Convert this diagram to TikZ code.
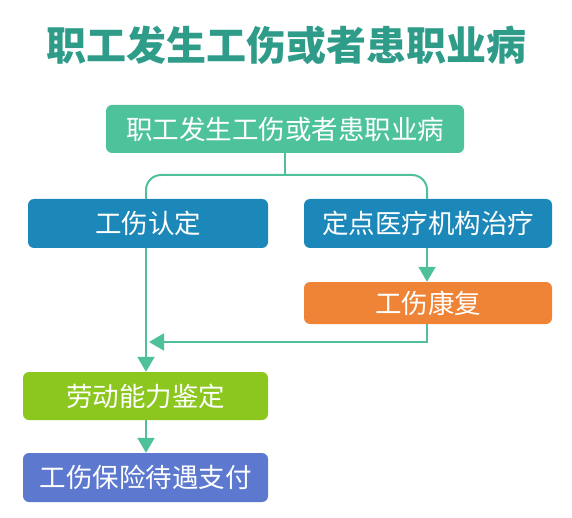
\documentclass[tikz,border=0pt]{standalone}
\usepackage{fontspec}
\newfontfamily\cjk{Noto Sans CJK SC}
\usetikzlibrary{arrows.meta}
\definecolor{titlec}{HTML}{2E9C89}
\definecolor{topc}{HTML}{4EC39B}
\definecolor{bluec}{HTML}{1C88B9}
\definecolor{orangec}{HTML}{EF8436}
\definecolor{greenc}{HTML}{8CC71F}
\definecolor{purplec}{HTML}{5C79CF}
\definecolor{linec}{HTML}{4EC19C}
\begin{document}
\begin{tikzpicture}[x=1pt,y=-1pt,
  box/.style={rounded corners=6pt, minimum height=49pt, text=white, inner sep=0pt,
    font=\cjk\fontsize{26.5}{30}\selectfont},
  conn/.style={draw=linec, line width=2pt},
  arr/.style={conn, -{Triangle[width=17pt,length=15pt]}}]
\useasboundingbox (0,0) rectangle (572,518);
\node[font=\cjk\bfseries\fontsize{40}{44}\selectfont, text=titlec] (title) at (286,45) {职工发生工伤或者患职业病};
\node[box, fill=topc, minimum width=358pt, minimum height=48pt] (top) at (285,129) {职工发生工伤或者患职业病};
\node[box, fill=bluec, minimum width=240pt] (bl) at (148,223.5) {工伤认定};
\node[box, fill=bluec, minimum width=248pt] (br) at (428,223.5) {定点医疗机构治疗};
\node[box, fill=orangec, minimum width=248pt, minimum height=42pt] (or) at (428,303) {工伤康复};
\node[box, fill=greenc, minimum width=245pt, minimum height=48pt] (gr) at (145.5,396) {劳动能力鉴定};
\node[box, fill=purplec, minimum width=245pt] (pay) at (145.5,477.5) {工伤保险待遇支付};
\coordinate (j) at (285,175);
\coordinate (lx) at (146,0);
\coordinate (rx) at (427,0);
\coordinate (tipx) at (149,0);
\coordinate (mid) at (0,342);
\draw[conn] (top.south) -- (j);
\draw[conn, rounded corners=15pt] (bl.north -| lx) |- (j) -| (br.north -| rx);
\draw[arr] (bl.south -| lx) -- (gr.north -| lx);
\draw[arr] (br.south -| rx) -- (or.north -| rx);
\draw[arr] (or.south -| rx) |- (mid -| tipx);
\draw[arr] (gr.south -| lx) -- (pay.north -| lx);
\end{tikzpicture}
\end{document}
